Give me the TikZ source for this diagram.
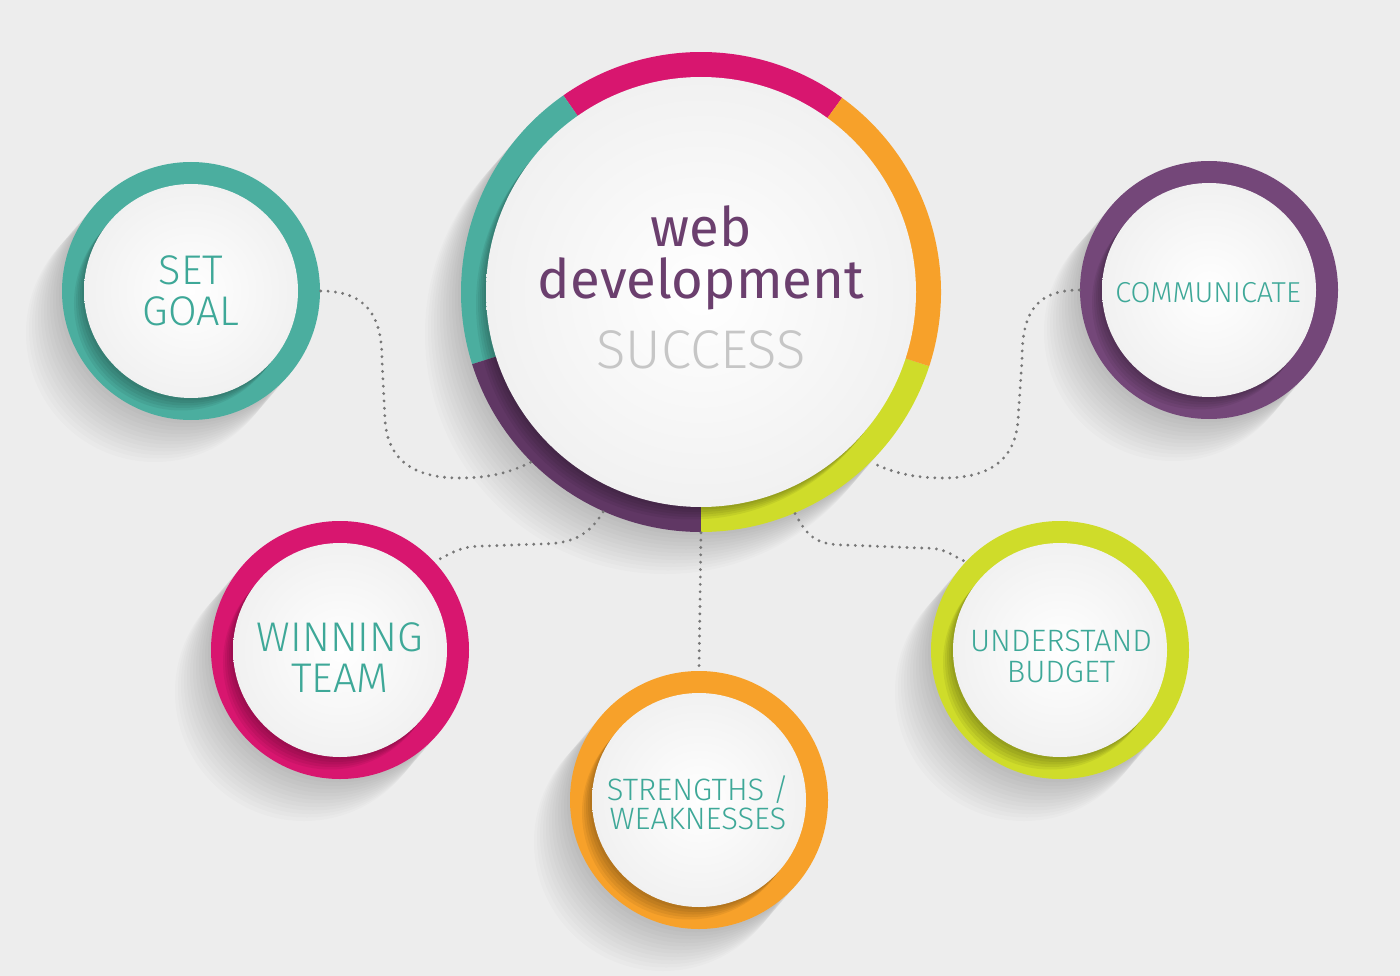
\documentclass[tikz,border=0pt]{standalone}
\usepackage{fontspec}
\setmainfont{Fira Sans}
\newfontfamily\thinfont{Fira Sans Light}

\definecolor{bggray}{HTML}{EDEDED}
\definecolor{webteal}{HTML}{4BAE9F}
\definecolor{webmagenta}{HTML}{D8166F}
\definecolor{weborange}{HTML}{F7A12A}
\definecolor{weblime}{HTML}{CFDC2A}
\definecolor{webpurple}{HTML}{744779}
\definecolor{hubpurple}{HTML}{603764}
\definecolor{labelteal}{HTML}{3EA898}
\definecolor{titlepurple}{HTML}{6B3F6E}
\definecolor{successgray}{HTML}{C6C6C6}
\definecolor{dotgray}{HTML}{777777}
\definecolor{discgray}{HTML}{F1F1F1}

\begin{document}
\begin{tikzpicture}
        % Define styles
        \tikzset{
            hub/.style={circle, inner sep=0pt, minimum size=4.8cm},
            ring/.style={circle, inner sep=0pt, minimum size=2.58cm},
            disc/.style={circle, inner sep=0pt, minimum size=2.14cm, inner color=white, outer color=discgray},
            label/.style={align=center, text=labelteal},
            link/.style={draw=dotgray, line width=0.9pt, line cap=round, dash pattern=on 0pt off 2.1pt}
        }

        % Background
        \fill[bggray] (0,0) rectangle (14,-9.76);

        % Centres
        \coordinate (c_main) at (7.01,-2.92);
        \coordinate (c_goal) at (1.91,-2.91);
        \coordinate (c_comm) at (12.09,-2.90);
        \coordinate (c_team) at (3.40,-6.50);
        \coordinate (c_sw) at (6.99,-8.00);
        \coordinate (c_budget) at (10.60,-6.50);

        % Soft shadows
        \foreach \c/\r in {c_main/2.4, c_goal/1.29, c_comm/1.29, c_team/1.29, c_sw/1.29, c_budget/1.29}
            \foreach \k in {1,...,12}
                \fill[black, opacity=0.016, shift={(\c)}] (-\k*0.03,-\k*0.035) circle (\r);

        % Main ring
        \node[hub] (main) at (c_main) {};
        \foreach \a/\b/\col in {54/125/webmagenta, 125/197.5/webteal, 197.5/270/hubpurple, -90/-18/weblime, -18/54/weborange}
            \fill[\col, shift={(c_main)}] (0,0) -- (\a:2.4) arc[start angle=\a, end angle=\b, radius=2.4] -- cycle;

        % Small rings
        \node[ring, fill=webteal] (goal) at (c_goal) {};
        \node[ring, fill=webpurple] (comm) at (c_comm) {};
        \node[ring, fill=webmagenta] (team) at (c_team) {};
        \node[ring, fill=weborange] (sw) at (c_sw) {};
        \node[ring, fill=weblime] (budget) at (c_budget) {};

        % Disc shadows on the rings
        \foreach \c/\r/\rin in {c_main/2.4/2.15, c_goal/1.29/1.07, c_comm/1.29/1.07, c_team/1.29/1.07, c_sw/1.29/1.07, c_budget/1.29/1.07}{
            \begin{scope}
                \clip (\c) circle (\r);
                \foreach \k in {1,...,5}
                    \fill[black, opacity=0.06, shift={(\c)}] (-\k*0.02,-\k*0.025) circle (\rin);
            \end{scope}
        }

        % Discs
        \node[disc, minimum size=4.3cm] (main_disc) at (c_main) {};
        \node[disc] (goal_disc) at (c_goal) {};
        \node[disc] (comm_disc) at (c_comm) {};
        \node[disc] (team_disc) at (c_team) {};
        \node[disc] (sw_disc) at (c_sw) {};
        \node[disc] (budget_disc) at (c_budget) {};

        % Texts
        \node[align=center, text=titlepurple, font={\fontsize{15.5pt}{14.8pt}\selectfont}] (title) at (7.01,-2.87)
            {web\\development\\[5.1pt]{\thinfont\color{successgray}SUCCESS}};
        \node[label, font={\thinfont\fontsize{11.8pt}{11.7pt}\selectfont}] (goal_label) at (1.91,-2.905) {SET\\GOAL};
        \node[label, font={\thinfont\fontsize{8.2pt}{9pt}\selectfont}] (comm_label) at (12.08,-2.93) {COMMUNICATE};
        \node[label, font={\thinfont\fontsize{11.8pt}{11.7pt}\selectfont}] (team_label) at (3.40,-6.575) {WINNING\\TEAM};
        \node[label, font={\thinfont\fontsize{8.8pt}{8.3pt}\selectfont}] (sw_label) at (6.98,-8.03) {STRENGTHS /\\WEAKNESSES};
        \node[label, font={\thinfont\fontsize{8.8pt}{8.8pt}\selectfont}] (budget_label) at (10.61,-6.565) {UNDERSTAND\\BUDGET};

        % Connectors
        \draw[link] (goal.east) .. controls +(0.45,0) and +(0,0.45) .. (3.82,-3.6) -- (3.85,-4.2)
            .. controls +(0.03,-0.45) and +(-0.4,0) .. (4.6,-4.78) .. controls +(0.3,0) and +(-0.2,-0.1) .. (main.225);
        \draw[link] (comm.west) .. controls +(-0.45,0) and +(0,0.45) .. (10.22,-3.6) -- (10.18,-4.2)
            .. controls +(-0.03,-0.45) and +(0.4,0) .. (9.43,-4.78) .. controls +(-0.3,0) and +(0.2,-0.1) .. (main.-45);
        \draw[link] (main.246) .. controls +(-0.15,-0.25) and +(0.3,0) .. (5.4,-5.44) -- (4.85,-5.46)
            .. controls +(-0.25,0) and +(0.2,0.1) .. (team.43);
        \draw[link] (main.south) -- (sw.north);
        \draw[link] (main.-67) .. controls +(0.12,-0.22) and +(-0.3,0) .. (8.45,-5.45) -- (9.2,-5.48)
            .. controls +(0.25,0) and +(-0.2,0.1) .. (budget.137);
    \end{tikzpicture}
\end{document}
